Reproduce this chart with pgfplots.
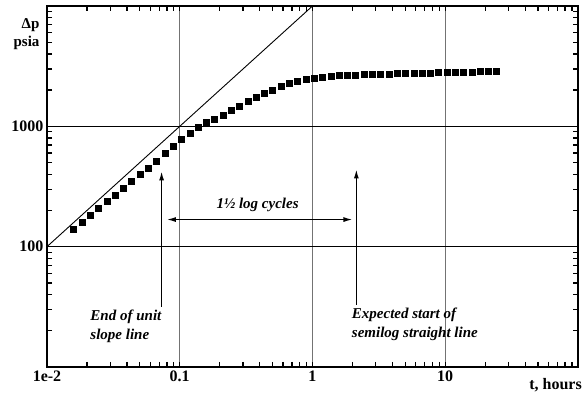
\documentclass[border=0pt]{standalone}
\usepackage{fontspec}
\setmainfont{Liberation Serif}
\usepackage{pgfplots}
\pgfplotsset{compat=1.18}
\usetikzlibrary{arrows.meta}
\begin{document}
\begin{tikzpicture}
\begin{axis}[
  xmode=log, ymode=log,
  scale only axis, width=531pt, height=361pt,
  xmin=0.01, xmax=100, ymin=10, ymax=10000,
  xtick={0.01,0.1,1,10,100},
  xticklabels={1e-2,0.1,1,10,{}},
  ytick={10,100,1000,10000},
  yticklabels={{},100,1000,{}},
  minor xtick={0.02,0.03,0.04,0.05,0.06,0.07,0.08,0.09,0.2,0.3,0.4,0.5,0.6,0.7,0.8,0.9,2,3,4,5,6,7,8,9,20,30,40,50,60,70,80,90},
  minor ytick={20,30,40,50,60,70,80,90,200,300,400,500,600,700,800,900,2000,3000,4000,5000,6000,7000,8000,9000},
  tick label style={font=\fontsize{16}{18}\selectfont\bfseries},
  tick align=inside,
  major tick length=5pt,
  minor tick length=5pt,
  every tick/.style={draw=black, line width=1.3pt},
  axis line style={line width=1.6pt},
  xmajorgrids, ymajorgrids,
  x grid style={line width=1pt, black!55},
  y grid style={line width=0.9pt, black},
  clip=false,
]
% minor tick marks drawn as data marks too (inside, on all four sides)
\addplot[only marks, mark=|, mark size=2.6pt, mark options={line width=1.3pt, black, yshift=2.6pt}] coordinates {
(0.02,10) (0.03,10) (0.04,10) (0.05,10) (0.06,10) (0.07,10) (0.08,10) (0.09,10)
(0.2,10) (0.3,10) (0.4,10) (0.5,10) (0.6,10) (0.7,10) (0.8,10) (0.9,10)
(2,10) (3,10) (4,10) (5,10) (6,10) (7,10) (8,10) (9,10)
(20,10) (30,10) (40,10) (50,10) (60,10) (70,10) (80,10) (90,10)};
\addplot[only marks, mark=|, mark size=2.6pt, mark options={line width=1.3pt, black, yshift=-2.6pt}] coordinates {
(0.02,10000) (0.03,10000) (0.04,10000) (0.05,10000) (0.06,10000) (0.07,10000) (0.08,10000) (0.09,10000)
(0.2,10000) (0.3,10000) (0.4,10000) (0.5,10000) (0.6,10000) (0.7,10000) (0.8,10000) (0.9,10000)
(2,10000) (3,10000) (4,10000) (5,10000) (6,10000) (7,10000) (8,10000) (9,10000)
(20,10000) (30,10000) (40,10000) (50,10000) (60,10000) (70,10000) (80,10000) (90,10000)};
\addplot[only marks, mark=-, mark size=2.6pt, mark options={line width=1.3pt, black, xshift=2.6pt}] coordinates {
(0.01,20) (0.01,30) (0.01,40) (0.01,50) (0.01,60) (0.01,70) (0.01,80) (0.01,90)
(0.01,200) (0.01,300) (0.01,400) (0.01,500) (0.01,600) (0.01,700) (0.01,800) (0.01,900)
(0.01,2000) (0.01,3000) (0.01,4000) (0.01,5000) (0.01,6000) (0.01,7000) (0.01,8000) (0.01,9000)};
\addplot[only marks, mark=-, mark size=2.6pt, mark options={line width=1.3pt, black, xshift=-2.6pt}] coordinates {
(100,20) (100,30) (100,40) (100,50) (100,60) (100,70) (100,80) (100,90)
(100,200) (100,300) (100,400) (100,500) (100,600) (100,700) (100,800) (100,900)
(100,2000) (100,3000) (100,4000) (100,5000) (100,6000) (100,7000) (100,8000) (100,9000)};
% unit slope line
\addplot[black, line width=0.9pt] coordinates {(0.01,100) (1,10000)};
% data
\addplot[only marks, mark=square*, mark size=3pt, black] coordinates {
(0.01585,141) (0.01830,161) (0.02113,183) (0.02440,208) (0.02818,237)
(0.03254,270) (0.03758,307) (0.04339,350) (0.05012,398) (0.05788,453)
(0.06683,517) (0.07718,593) (0.08913,680) (0.1029,778) (0.1189,879)
(0.1373,975) (0.1585,1072) (0.1830,1151) (0.2113,1245) (0.2440,1357)
(0.2818,1479) (0.3254,1611) (0.3758,1742) (0.4339,1871) (0.5012,1995)
(0.5788,2143) (0.6683,2278) (0.7718,2378) (0.8913,2455) (1.029,2523)
(1.189,2577) (1.373,2618) (1.585,2642) (1.830,2657) (2.113,2673)
(2.440,2688) (2.818,2704) (3.254,2716) (3.758,2729) (4.339,2742)
(5.012,2754) (5.788,2767) (6.683,2777) (7.718,2786) (8.913,2799)
(10.29,2807) (11.89,2818) (13.73,2831) (15.85,2844) (18.30,2858)
(21.13,2871) (24.40,2884)
};
% annotation arrows
\addplot[black, line width=1.3pt, -{Latex[length=9pt,width=5pt]}] coordinates {(0.073,31.6) (0.073,422)};
\addplot[black, line width=1.3pt, -{Latex[length=9pt,width=5pt]}] coordinates {(2.14,33) (2.14,438)};
\addplot[black, line width=1.3pt, {Latex[length=9pt,width=5pt]}-{Latex[length=9pt,width=5pt]}] coordinates {(0.08,168) (2.0,168)};
\node[anchor=west, align=left, font=\fontsize{15}{19}\selectfont\bfseries\itshape] at (axis cs:0.02,21.7) {End of unit\\slope line};
\node[anchor=west, align=left, font=\fontsize{15}{19}\selectfont\bfseries\itshape] at (axis cs:1.865,22.8) {Expected start of\\semilog straight line};
\node[font=\fontsize{15}{18}\selectfont\bfseries\itshape] at (axis cs:0.386,224) {1½ log cycles};
\node[anchor=east, align=right, font=\fontsize{15}{18}\selectfont\bfseries] at ([xshift=-4pt]rel axis cs:0,0.922) {Δp\\psia};
\node[anchor=north east, font=\fontsize{16}{18}\selectfont\bfseries, inner sep=0pt] at ([xshift=4pt,yshift=-11pt]rel axis cs:1,0) {t, hours};
\coordinate (sw) at (rel axis cs:0,0);
\end{axis}
\pgfresetboundingbox
\path ([shift={(-47pt,-31pt)}]sw) rectangle ([shift={(535pt,367pt)}]sw);
\end{tikzpicture}
\end{document}
